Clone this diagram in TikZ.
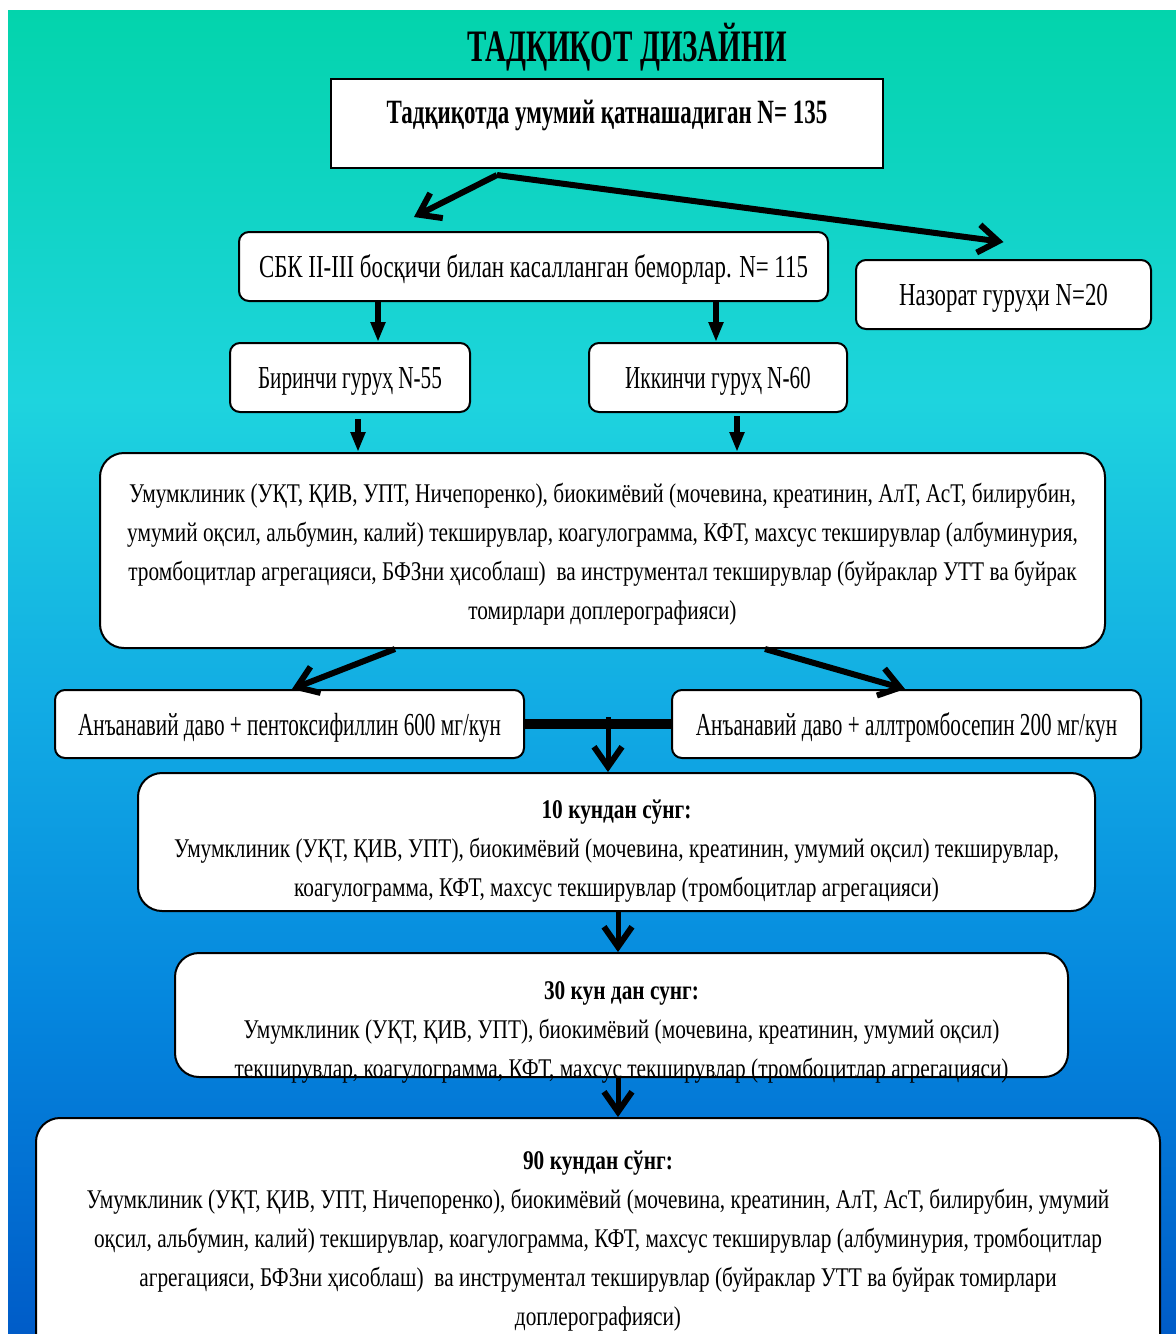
\documentclass[tikz,border=0pt]{standalone}
\usepackage{fontspec}
\setmainfont{Liberation Serif}[FakeStretch=0.789]
\newfontfamily\boxfont{Liberation Serif}[FakeStretch=0.715]
\newfontfamily\narrowfont{Liberation Serif}[FakeStretch=0.663]
\newfontfamily\headfont{Liberation Serif}[FakeStretch=0.675]
\newfontfamily\titlefont{Liberation Serif}[FakeStretch=0.645]
\usetikzlibrary{arrows.meta,calc,positioning}

\definecolor{bgA}{RGB}{3,212,172}
\definecolor{bgB}{RGB}{30,212,222}
\definecolor{bgC}{RGB}{18,172,228}
\definecolor{bgD}{RGB}{5,135,222}
\definecolor{bgE}{RGB}{0,92,200}

\begin{document}
\begin{tikzpicture}[x=0.5pt,y=-0.5pt,
    box/.style={draw=black, line width=1pt, fill=white, rounded corners=5pt, inner sep=0pt, align=center},
    bigbox/.style={box, rounded corners=12pt},
    oneline/.style={font=\boxfont\fontsize{16}{19}\selectfont, text height=11pt, text depth=0pt},
    narrowline/.style={oneline, font=\narrowfont\fontsize{16}{19}\selectfont},
    para/.style={font=\fontsize{13.5}{19.5}\selectfont, text height=10pt,
        execute at begin node={\spaceskip=0.2em\xspaceskip=0.22em\relax}},
    fat/.style={line width=3pt},
    tri/.style={fat, -{Triangle[length=10pt,width=7pt]}},
    barb/.style={fat, -{Straight Barb[length=10pt,width=14pt,line width=3pt]}}]
    %%%%% START %%%%%

    \useasboundingbox (0,0) rectangle (1176,1334);

    % background
    \shade[top color=bgA, bottom color=bgB] (8,10) rectangle (1176,401);
    \shade[top color=bgB, bottom color=bgC] (8,400) rectangle (1176,701);
    \shade[top color=bgC, bottom color=bgD] (8,700) rectangle (1176,1001);
    \shade[top color=bgD, bottom color=bgE] (8,1000) rectangle (1176,1334);

    \node[font=\titlefont\bfseries\fontsize{22.5}{26}\selectfont] (title) at (627,47) {ТАДҚИҚОТ ДИЗАЙНИ};

    \node[draw, line width=1pt, fill=white, minimum width=276pt, minimum height=44.5pt,
        text height=8pt, text depth=8pt, font=\headfont\bfseries\fontsize{17}{20}\selectfont]
        (total) at (607,123.5) {Тадқиқотда умумий қатнашадиган N= 135};

    \node[box, oneline, minimum width=294.5pt, minimum height=34.5pt] (cases) at (533.5,266.5)
        {СБК II-III босқичи билан касалланган беморлар. N= 115};
    \node[box, oneline, minimum width=147.5pt, minimum height=34.5pt] (ctrl) at (1003.5,294.5)
        {Назорат гуруҳи N=20};

    \node[box, narrowline, minimum width=120pt, minimum height=34.5pt] (grp1) at (350,377.5)
        {Биринчи гуруҳ N-55};
    \node[box, narrowline, minimum width=129pt, minimum height=34.5pt] (grp2) at (718,377.5)
        {Иккинчи гуруҳ N-60};

    \node[bigbox, para, text width=495pt, text depth=58.5pt, minimum width=502.5pt, minimum height=97.5pt]
        (exam) at (602.5,550.5)
        {Умумклиник (УҚТ, ҚИВ, УПТ, Ничепоренко), биокимёвий (мочевина, креатинин, АлТ, АсТ, билирубин,\\
        умумий оқсил, альбумин, калий) текширувлар, коагулограмма, КФТ, махсус текширувлар (албуминурия,\\
        тромбоцитлар агрегацияси, БФЗни ҳисоблаш)\ \ ва инструментал текширувлар (буйраклар УТТ ва буйрак\\
        томирлари доплерографияси)};

    \node[box, narrowline, minimum width=234.5pt, minimum height=34pt] (treat1) at (289.5,724)
        {Анъанавий даво + пентоксифиллин 600 мг/кун};
    \node[box, narrowline, minimum width=234.5pt, minimum height=34pt] (treat2) at (906.5,724)
        {Анъанавий даво + аллтромбосепин 200 мг/кун};

    \node[bigbox, para, text width=470pt, text depth=34pt, minimum width=478.5pt, minimum height=69pt]
        (day10) at (616.5,842)
        {\textbf{10 кундан сўнг:}\\
        Умумклиник (УҚТ, ҚИВ, УПТ), биокимёвий (мочевина, креатинин, умумий оқсил) текширувлар,\\
        коагулограмма, КФТ, махсус текширувлар (тромбоцитлар агрегацияси)};

    \node[bigbox, para, text width=440pt, text depth=26pt, minimum width=446.5pt, minimum height=62pt]
        (day30) at (621.5,1015)
        {\textbf{30 кун дан сунг:}\\
        Умумклиник (УҚТ, ҚИВ, УПТ), биокимёвий (мочевина, креатинин, умумий оқсил)\\
        текширувлар, коагулограмма, КФТ, махсус текширувлар (тромбоцитлар агрегацияси)};

    \node[bigbox, para, text width=555pt, text depth=89pt, minimum width=562pt, minimum height=130pt]
        (day90) at (598,1248)
        {\textbf{90 кундан сўнг:}\\
        Умумклиник (УҚТ, ҚИВ, УПТ, Ничепоренко), биокимёвий (мочевина, креатинин, АлТ, АсТ, билирубин, умумий\\
        оқсил, альбумин, калий) текширувлар, коагулограмма, КФТ, махсус текширувлар (албуминурия, тромбоцитлар\\
        агрегацияси, БФЗни ҳисоблаш)\ \ ва инструментал текширувлар (буйраклар УТТ ва буйрак томирлари\\
        доплерографияси)};

    % arrows
    \coordinate (split) at (497,175);
    \draw[barb] (split) -- ($(cases.north west)+(176,-14)$);
    \draw[barb] (split) -- ($(ctrl.north)+(0,-17)$);

    \draw[tri] (378,0 |- cases.south) -- (378,0 |- grp1.north);
    \draw[tri] (716,0 |- cases.south) -- (716,0 |- grp2.north);
    \draw[tri] ($(grp1.south)+(8,6)$) -- (358,0 |- exam.north);
    \draw[tri] ($(grp2.south)+(19,3)$) -- (737,0 |- exam.north);

    \draw[barb] (395,0 |- exam.south) -- ($(treat1.north)+(2.5,0)$);
    \draw[barb] (765,0 |- exam.south) -- ($(treat2.north)+(-1.5,0)$);

    \draw[line width=5pt] (treat1.east) -- (treat2.west);
    \coordinate (merge) at (608,717);
    \draw[barb, line width=2.5pt] (merge) -- (merge |- day10.north);

    \draw[barb, line width=2.5pt] (618,0 |- day10.south) -- (618,0 |- day30.north);
    \draw[barb, line width=2.5pt] (618,0 |- day30.south) -- (618,0 |- day90.north);

    %%%%% END %%%%%
\end{tikzpicture}
\end{document}
